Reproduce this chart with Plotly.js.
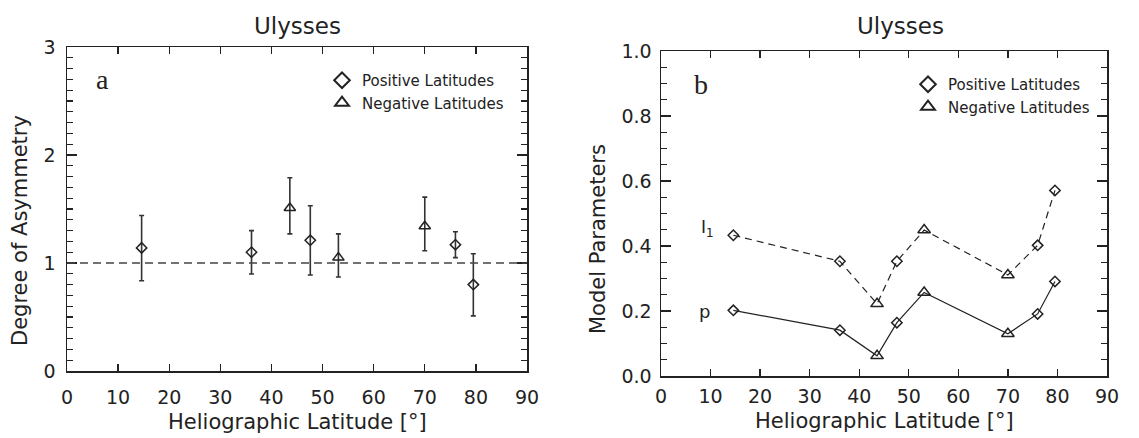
<!DOCTYPE html>
<html>
<head>
<meta charset="utf-8">
<script src="https://cdn.plot.ly/plotly-3.0.1.min.js"></script>
<style>html,body{margin:0;padding:0;background:#fff;}#chart{width:1139px;height:438px;}</style>
</head>
<body>
<div id="chart"></div>
<script>
// ---- data ----
const latitude   = [14.6, 36.1, 43.6, 47.6, 53.1, 70.0, 76.0, 79.5];
const hemisphere = ['+', '+', '-', '+', '-', '-', '+', '+'];   // sign of the latitude
// panel a: degree of asymmetry with error bar ends
const asymmetry  = [1.14, 1.10, 1.51, 1.21, 1.05, 1.34, 1.17, 0.80];
const asymHigh   = [1.44, 1.30, 1.79, 1.53, 1.27, 1.61, 1.29, 1.085];
const asymLow    = [0.836, 0.898, 1.27, 0.889, 0.87, 1.114, 1.05, 0.51];
const referenceLevel = 1;
// panel b: model parameters
const paramI1 = [0.433, 0.353, 0.222, 0.353, 0.449, 0.311, 0.402, 0.571];
const paramP  = [0.202, 0.141, 0.062, 0.164, 0.257, 0.130, 0.191, 0.291];
const legendNames = {'+': 'Positive Latitudes', '-': 'Negative Latitudes'};
const xTicks = [0, 10, 20, 30, 40, 50, 60, 70, 80, 90];

// ---- styling ----
const ink = '#222';
const FONT = 'DejaVu Sans, sans-serif';
const symbolOf = {'+': 'diamond-open', '-': 'triangle-up-open'};
const sizeOf = {'+': 8, '-': 10};

function pick(arr, sign) { return arr.filter((_, i) => hemisphere[i] === sign); }

const traces = [];
['+', '-'].forEach(sign => {
  const y = pick(asymmetry, sign);
  const hi = pick(asymHigh, sign), lo = pick(asymLow, sign);
  traces.push({
    type: 'scatter', mode: 'markers', xaxis: 'x', yaxis: 'y',
    x: pick(latitude, sign), y: y,
    name: legendNames[sign], legend: 'legend',
    marker: {symbol: symbolOf[sign], size: sizeOf[sign], color: ink, line: {width: 1.5, color: ink}},
    error_y: {type: 'data', symmetric: false,
      array: hi.map((v, i) => v - y[i]), arrayminus: lo.map((v, i) => y[i] - v),
      color: '#333', thickness: 1.6, width: 2.5}
  });
});
// panel b lines
traces.push({type: 'scatter', mode: 'lines', xaxis: 'x2', yaxis: 'y2', x: latitude, y: paramI1,
  line: {color: ink, width: 1.2, dash: '7px,5px'}, showlegend: false, hoverinfo: 'skip'});
traces.push({type: 'scatter', mode: 'lines', xaxis: 'x2', yaxis: 'y2', x: latitude, y: paramP,
  line: {color: ink, width: 1.2}, showlegend: false, hoverinfo: 'skip'});
['+', '-'].forEach(sign => {
  [paramI1, paramP].forEach((series, k) => {
    traces.push({
      type: 'scatter', mode: 'markers', xaxis: 'x2', yaxis: 'y2',
      x: pick(latitude, sign), y: pick(series, sign),
      name: legendNames[sign], legend: 'legend2', showlegend: k === 0,
      marker: {symbol: symbolOf[sign], size: sizeOf[sign] + (sign === '-' ? 1 : 0), color: ink, line: {width: 1.5, color: ink}}
    });
  });
});

const axBase = {
  showgrid: false, zeroline: false, showline: true, linecolor: ink, linewidth: 1.5,
  ticks: 'inside', mirror: 'ticks', tickcolor: ink, tickwidth: 1.3,
  tickfont: {family: FONT, size: 19, color: ink}
};
const xBase = Object.assign({}, axBase, {range: [0, 90], tickvals: xTicks, ticklen: 7});

const legendBase = {xanchor: 'left', yanchor: 'top', bgcolor: 'rgba(0,0,0,0)',
  font: {family: FONT, size: 15, color: ink}, tracegroupgap: 0, itemsizing: 'constant'};

const layout = {
  width: 1139, height: 438,
  margin: {l: 0, r: 0, t: 0, b: 0},
  paper_bgcolor: '#fff', plot_bgcolor: '#fff',
  font: {family: FONT, color: ink},
  xaxis: Object.assign({}, xBase, {domain: [67/1139, 527/1139], anchor: 'y', ticklabelstandoff: 9}),
  yaxis: Object.assign({}, axBase, {domain: [67/438, 391/438], anchor: 'x', range: [0, 3], dtick: 1, ticklen: 10, ticklabelstandoff: 6,
    minor: {dtick: 0.1, ticks: 'inside', ticklen: 6, tickcolor: ink, tickwidth: 1.2}}),
  xaxis2: Object.assign({}, xBase, {domain: [661/1139, 1107/1139], anchor: 'y2', ticklabelstandoff: 3}),
  yaxis2: Object.assign({}, axBase, {domain: [62/438, 387/438], anchor: 'x2', range: [0, 1], dtick: 0.2, tickformat: '.1f', ticklen: 10, ticklabelstandoff: 4,
    minor: {dtick: 0.05, ticks: 'inside', ticklen: 6, tickcolor: ink, tickwidth: 1.2}}),
  shapes: [{type: 'line', xref: 'x domain', x0: 0, x1: 1, yref: 'y', y0: referenceLevel, y1: referenceLevel,
    line: {color: '#444', width: 1.3, dash: '8px,5px'}}],
  legend: Object.assign({}, legendBase, {x: 322/1139, y: 1 - 64/438}),
  legend2: Object.assign({}, legendBase, {x: 908/1139, y: 1 - 68/438}),
  annotations: [
    {xref: 'paper', yref: 'paper', x: 297/1139, y: 1 - 26/438, text: 'Ulysses', showarrow: false,
      font: {family: FONT, size: 23, color: ink}, xanchor: 'center', yanchor: 'middle'},
    {xref: 'paper', yref: 'paper', x: 900/1139, y: 1 - 26/438, text: 'Ulysses', showarrow: false,
      font: {family: FONT, size: 23, color: ink}, xanchor: 'center', yanchor: 'middle'},
    {xref: 'paper', yref: 'paper', x: 297/1139, y: 1 - 422/438, text: 'Heliographic Latitude [°]', showarrow: false,
      font: {family: FONT, size: 21, color: ink}, xanchor: 'center', yanchor: 'middle'},
    {xref: 'paper', yref: 'paper', x: 884/1139, y: 1 - 421/438, text: 'Heliographic Latitude [°]', showarrow: false,
      font: {family: FONT, size: 21, color: ink}, xanchor: 'center', yanchor: 'middle'},
    {xref: 'paper', yref: 'paper', x: 20/1139, y: 1 - 231/438, text: 'Degree of Asymmetry', textangle: -90, showarrow: false,
      font: {family: FONT, size: 21, color: ink}, xanchor: 'center', yanchor: 'middle'},
    {xref: 'paper', yref: 'paper', x: 598/1139, y: 1 - 239/438, text: 'Model Parameters', textangle: -90, showarrow: false,
      font: {family: FONT, size: 21, color: ink}, xanchor: 'center', yanchor: 'middle'},
    {xref: 'paper', yref: 'paper', x: 102/1139, y: 1 - 79/438, text: 'a', showarrow: false,
      font: {family: 'Liberation Serif, serif', size: 28, color: ink}, xanchor: 'center', yanchor: 'middle'},
    {xref: 'paper', yref: 'paper', x: 701/1139, y: 1 - 85/438, text: 'b', showarrow: false,
      font: {family: 'Liberation Serif, serif', size: 28, color: ink}, xanchor: 'center', yanchor: 'middle'},
    {xref: 'x2', yref: 'y2', x: 9.3, y: 0.455, text: 'I<sub>1</sub>', showarrow: false,
      font: {family: FONT, size: 17, color: ink}, xanchor: 'center', yanchor: 'middle'},
    {xref: 'x2', yref: 'y2', x: 8.7, y: 0.2, text: 'p', showarrow: false,
      font: {family: FONT, size: 18, color: ink}, xanchor: 'center', yanchor: 'middle'}
  ]
};

Plotly.newPlot('chart', traces, layout, {staticPlot: true, displayModeBar: false});
</script>
</body>
</html>
